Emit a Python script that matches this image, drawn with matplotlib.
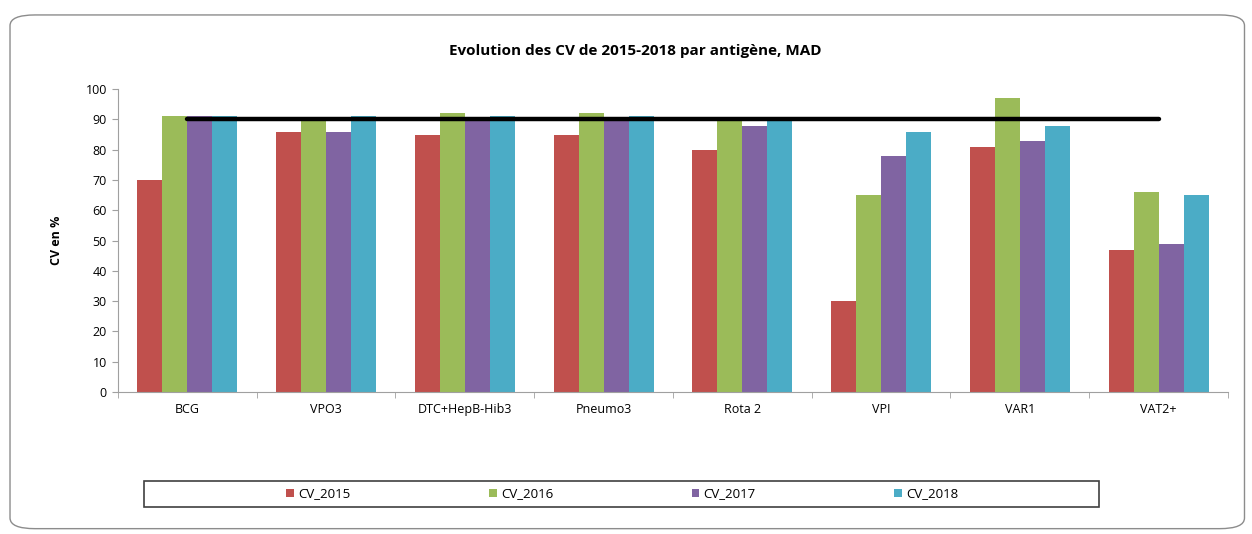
import matplotlib
matplotlib.use("Agg")
import matplotlib.pyplot as plt
import numpy as np
from matplotlib.patches import FancyBboxPatch, Rectangle

categories = ["BCG", "VPO3", "DTC+HepB-Hib3", "Pneumo3", "Rota 2", "VPI", "VAR1", "VAT2+"]
cv_2015 = [70, 86, 85, 85, 80, 30, 81, 47]
cv_2016 = [91, 90, 92, 92, 90, 65, 97, 66]
cv_2017 = [91, 86, 90, 90, 88, 78, 83, 49]
cv_2018 = [91, 91, 91, 91, 90, 86, 88, 65]
target = [90] * len(categories)

series = [("CV_2015", cv_2015), ("CV_2016", cv_2016), ("CV_2017", cv_2017), ("CV_2018", cv_2018)]
colors = ["#C0504D", "#9BBB59", "#8064A2", "#4BACC6"]

plt.rcParams.update({"font.family": ["Open Sans", "DejaVu Sans"], "font.size": 9})

fig = plt.figure(figsize=(12.52, 5.34), dpi=100)
fig.patches.append(FancyBboxPatch((0.008, 0.01), 0.986, 0.962,
                                  boxstyle="round,pad=0,rounding_size=0.02",
                                  transform=fig.transFigure, fill=False,
                                  edgecolor="#8c8c8c", lw=1.0))

ax = fig.add_axes([0.0942, 0.266, 0.8866, 0.567])
x = np.arange(len(categories))
w = 0.18
for i, ((name, vals), c) in enumerate(zip(series, colors)):
    ax.bar(x + (i - 1.5) * w, vals, width=w, color=c, label=name, zorder=2)
ax.plot(x, target, color="black", lw=3.2, solid_capstyle="round", zorder=3)

ax.set_xlim(-0.5, len(categories) - 0.5)
ax.set_ylim(0, 100)
ax.set_yticks(range(0, 101, 10))
ax.set_xticks(x)
ax.set_xticklabels(categories)
ax.set_xticks(np.arange(-0.5, len(categories), 1), minor=True)
ax.tick_params(axis="x", which="major", length=0, pad=8)
ax.tick_params(axis="x", which="minor", length=4, color="#a0a0a0")
ax.tick_params(axis="y", length=4, color="#a0a0a0", pad=4)
for s in ["top", "right"]:
    ax.spines[s].set_visible(False)
for s in ["left", "bottom"]:
    ax.spines[s].set_color("#a0a0a0")
ax.set_ylabel("CV en %", fontweight="bold", labelpad=16)
fig.text(0.507, 0.905, "Evolution des CV de 2015-2018 par antigène, MAD",
         ha="center", va="center", fontsize=11, fontweight="bold")

fig.patches.append(Rectangle((0.115, 0.05), 0.763, 0.05, transform=fig.transFigure,
                             fill=False, edgecolor="#404040", lw=1.2))
handles, labels = ax.get_legend_handles_labels()
fig.legend(handles, labels, loc="center", bbox_to_anchor=(0.497, 0.075), ncol=4,
           frameon=False, handlelength=0.6, handleheight=0.6, handletextpad=0.3,
           columnspacing=10.5, fontsize=9.5)

fig.savefig("out.png", dpi=100)
